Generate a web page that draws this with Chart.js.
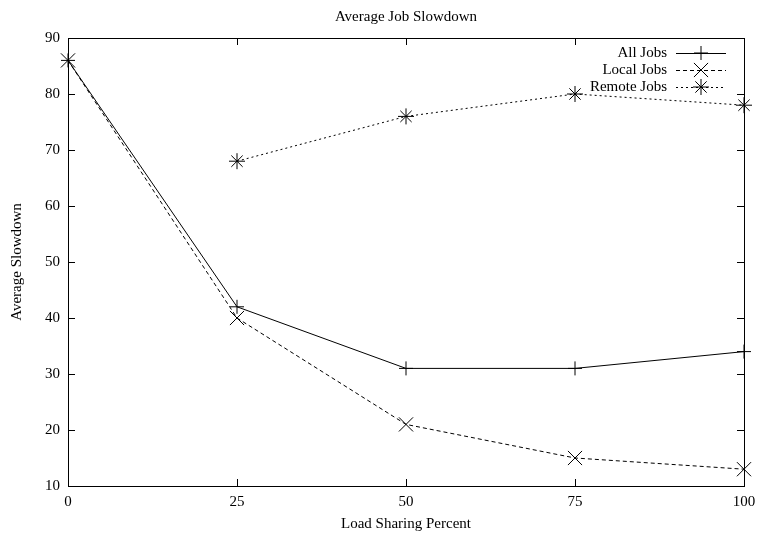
<!DOCTYPE html>
<html>
<head>
<meta charset="utf-8">
<script src="https://cdn.jsdelivr.net/npm/chart.js@4/dist/chart.umd.min.js"></script>
<style>
  html, body { margin: 0; padding: 0; background: #fff; }
  #wrap { width: 758px; height: 538px; }
</style>
</head>
<body>
<div id="wrap"><canvas id="myChart" width="758" height="538"></canvas></div>
<script>
const percents = [0, 25, 50, 75, 100];
const allJobs = [86, 42, 31, 31, 34];
const localJobs = [86, 40, 21, 15, 13];
const remoteJobs = [null, 68, 76, 80, 78];
const xTicks = [0, 25, 50, 75, 100];
const yTicks = [10, 20, 30, 40, 50, 60, 70, 80, 90];
const chartTitle = "Average Job Slowdown";

const FONT = "'Liberation Serif', 'Times New Roman', serif";
const SIZE = 15;

function toPoints(values) {
  return percents.map((p, i) => ({ x: p, y: values[i] }));
}

// gnuplot style frame with inward ticks on all four sides, title and key
const framePlugin = {
  id: "frame",
  afterDatasetsDraw(chart) {
    const { ctx, chartArea: a, scales } = chart;
    ctx.save();
    ctx.strokeStyle = "#000";
    ctx.lineWidth = 1;
    ctx.setLineDash([]);
    ctx.strokeRect(a.left + 0.5, a.top + 0.5, a.right - a.left, a.bottom - a.top);
    const len = 7;
    ctx.beginPath();
    xTicks.forEach(v => {
      const x = Math.round(scales.x.getPixelForValue(v)) + 0.5;
      ctx.moveTo(x, a.bottom); ctx.lineTo(x, a.bottom - len);
      ctx.moveTo(x, a.top); ctx.lineTo(x, a.top + len);
    });
    yTicks.forEach(v => {
      const y = Math.round(scales.y.getPixelForValue(v)) + 0.5;
      ctx.moveTo(a.left, y); ctx.lineTo(a.left + len, y);
      ctx.moveTo(a.right, y); ctx.lineTo(a.right - len, y);
    });
    ctx.stroke();

    ctx.font = SIZE + "px " + FONT;
    ctx.fillStyle = "#000";
    ctx.textBaseline = "middle";
    ctx.textAlign = "center";
    ctx.fillText(chartTitle, (a.left + a.right) / 2, 17);

    // key, text on the left of the sample
    const textRight = 667, x0 = 676, x1 = 726, rowY = 53, step = 17;
    ctx.textAlign = "right";
    chart.data.datasets.forEach((ds, i) => {
      const y = rowY + i * step;
      ctx.fillText(ds.label, textRight, y);
      ctx.setLineDash(ds.borderDash || []);
      ctx.beginPath();
      ctx.moveTo(x0, y + 0.5); ctx.lineTo(x1, y + 0.5);
      ctx.stroke();
      ctx.setLineDash([]);
      Chart.helpers.drawPoint(ctx, {
        pointStyle: ds.pointStyle, radius: ds.pointRadius, borderWidth: 1, rotation: 0
      }, (x0 + x1) / 2, y);
    });
    ctx.restore();
  }
};

const ctx = document.getElementById("myChart").getContext("2d");

const myChart = new Chart(ctx, {
  type: "line",
  data: {
    datasets: [
      {
        label: "All Jobs",
        data: toPoints(allJobs),
        borderColor: "#000",
        backgroundColor: "#000",
        borderWidth: 1,
        pointStyle: "cross",
        pointRadius: 7,
        pointBorderWidth: 1,
        clip: false,
      },
      {
        label: "Local Jobs",
        data: toPoints(localJobs),
        borderColor: "#000",
        backgroundColor: "#000",
        borderWidth: 1,
        borderDash: [4, 3],
        pointStyle: "crossRot",
        pointRadius: 10,
        pointBorderWidth: 1,
        clip: false,
      },
      {
        label: "Remote Jobs",
        data: toPoints(remoteJobs),
        borderColor: "#000",
        backgroundColor: "#000",
        borderWidth: 1,
        borderDash: [2, 3],
        pointStyle: "star",
        pointRadius: 8,
        pointBorderWidth: 1,
        clip: false,
      },
    ],
  },
  options: {
    responsive: false,
    animation: false,
    events: [],
    layout: { padding: { left: 0, right: 14, top: 38, bottom: 0 } },
    plugins: {
      legend: { display: false },
      tooltip: { enabled: false },
      title: { display: false },
    },
    scales: {
      x: {
        type: "linear",
        min: 0,
        max: 100,
        grid: { display: false, drawTicks: false },
        border: { display: false },
        afterBuildTicks: s => { s.ticks = xTicks.map(v => ({ value: v })); },
        ticks: { color: "#000", padding: 7, maxRotation: 0, font: { family: FONT, size: SIZE } },
        title: {
          display: true,
          text: "Load Sharing Percent",
          color: "#000",
          font: { family: FONT, size: SIZE },
          padding: { top: 4, bottom: 5 },
        },
        afterFit: s => { s.height = 52; s.paddingLeft = 0; s.paddingRight = 0; },
      },
      y: {
        type: "linear",
        min: 10,
        max: 90,
        grid: { display: false, drawTicks: false },
        border: { display: false },
        afterBuildTicks: s => { s.ticks = yTicks.map(v => ({ value: v })); },
        ticks: { color: "#000", padding: 8, font: { family: FONT, size: SIZE } },
        title: {
          display: true,
          text: "Average Slowdown",
          color: "#000",
          font: { family: FONT, size: SIZE },
          padding: { top: 8, bottom: 4 },
        },
        afterFit: s => { s.width = 68; s.paddingTop = 0; s.paddingBottom = 0; },
      },
    },
  },
  plugins: [framePlugin],
});
</script>
</body>
</html>
